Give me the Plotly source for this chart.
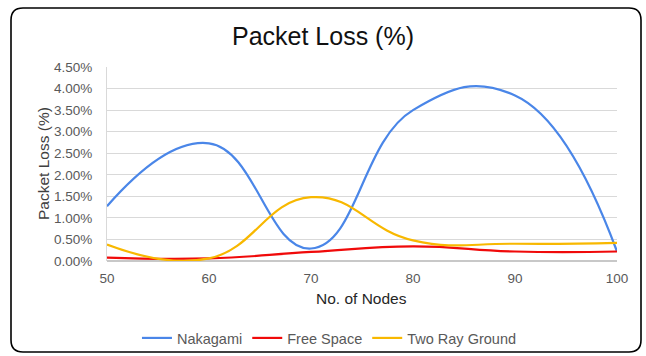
import plotly.graph_objects as go

# Number of nodes in the network
nodes = [50, 60, 70, 80, 90, 100]

# Packet loss (%) per propagation model
nakagami = [1.27, 2.73, 0.29, 3.50, 3.84, 0.22]
free_space = [0.08, 0.06, 0.21, 0.34, 0.22, 0.22]
two_ray_ground = [0.38, 0.06, 1.48, 0.48, 0.40, 0.42]

y_ticks = [0, 0.5, 1.0, 1.5, 2.0, 2.5, 3.0, 3.5, 4.0, 4.5]

W, H = 646, 356
L, R, T, B = 107, 29, 67, 95
PW, PH = W - L - R, H - T - B


def px(x):
    return (x - L) / PW


def py(y):
    return (H - B - y) / PH


fig = go.Figure()
series = [
    ("Nakagami", nakagami, "#4a86e8"),
    ("Free Space", free_space, "#f00a0a"),
    ("Two Ray Ground", two_ray_ground, "#f8b800"),
]
for name, vals, color in series:
    fig.add_trace(go.Scatter(
        x=nodes, y=vals, name=name, mode="lines",
        line=dict(color=color, width=2.2, shape="spline", smoothing=1.3),
    ))

# rounded outer frame
x0, x1, y0, y1, r = 11, 641, 8, 352, 12
path = (
    f"M {px(x0 + r)},{py(y0)} L {px(x1 - r)},{py(y0)} "
    f"Q {px(x1)},{py(y0)} {px(x1)},{py(y0 + r)} "
    f"L {px(x1)},{py(y1 - r)} Q {px(x1)},{py(y1)} {px(x1 - r)},{py(y1)} "
    f"L {px(x0 + r)},{py(y1)} Q {px(x0)},{py(y1)} {px(x0)},{py(y1 - r)} "
    f"L {px(x0)},{py(y0 + r)} Q {px(x0)},{py(y0)} {px(x0 + r)},{py(y0)} Z"
)
fig.add_shape(type="path", path=path, xref="paper", yref="paper",
              line=dict(color="black", width=1.6), layer="above")

fig.add_annotation(text="Packet Loss (%)", xref="paper", yref="paper",
                   x=px(43), y=py(164), xanchor="center", yanchor="middle",
                   textangle=-90, showarrow=False,
                   font=dict(size=15.5, color="#404040"))
fig.add_annotation(text="No. of Nodes", xref="paper", yref="paper",
                   x=px(361), y=py(298), xanchor="center", yanchor="middle",
                   showarrow=False,
                   font=dict(size=15.5, color="#262626"))

fig.update_layout(
    width=W, height=H,
    margin=dict(l=L, r=R, t=T, b=B),
    paper_bgcolor="white", plot_bgcolor="white",
    font=dict(family="Liberation Sans, Arial, sans-serif", color="#595959"),
    title=dict(text="Packet Loss (%)", x=0.5, xanchor="center",
               y=1 - 36 / H, yanchor="middle",
               font=dict(size=25, color="#111111")),
    xaxis=dict(range=[50, 100], tickvals=nodes, showgrid=False,
               zeroline=False, showline=False,
               ticks="outside", ticklen=5, tickcolor="rgba(0,0,0,0)",
               tickfont=dict(size=13.5, color="#595959")),
    yaxis=dict(range=[0, 4.5], tickvals=y_ticks,
               ticktext=[f"{v:.2f}%" for v in y_ticks],
               showgrid=True, gridcolor="#d9d9d9", gridwidth=1,
               zeroline=True, zerolinecolor="#c8c8c8", zerolinewidth=2,
               showline=True, linecolor="#d9d9d9", linewidth=1,
               ticks="outside", ticklen=11, tickcolor="rgba(0,0,0,0)",
               tickfont=dict(size=13.5, color="#595959")),
    legend=dict(orientation="h", x=0.51, xref="container", xanchor="center",
                y=1 - 338 / H, yref="container", yanchor="middle",
                font=dict(size=14.5, color="#595959"), itemwidth=30,
                tracegroupgap=0, bgcolor="rgba(0,0,0,0)"),
    showlegend=True,
)

fig.write_html("out.html")
